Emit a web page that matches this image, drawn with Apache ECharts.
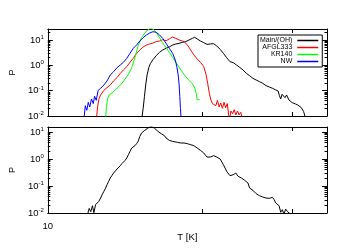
<!DOCTYPE html>
<html><head><meta charset="utf-8">
<script src="https://cdn.jsdelivr.net/npm/echarts@6/dist/echarts.min.js"></script>
<style>html,body{margin:0;padding:0;background:#fff}#c{width:350px;height:250px}</style>
</head><body><div id="c"></div>
<script>
// ---- data ----
const seriesNames = ['Main/(OH)', 'AFGL333', 'KR140', 'NW'];
const seriesColors = ['#000000', '#ff0000', '#00ff00', '#0000ff'];

const T_MAIN = [40.7,41.5,42.3,43.1,44.0,45.1,46.2,48.0,50.4,53.0,55.6,58.4,61.3,64.4,67.6,71.0,74.6,78.3,82.3,86.4,89.4,92.9,97.6,102.5,107.6,113.0,118.7,124.6,130.9,137.4,144.3,151.6,159.2,167.1,175.4,184.3,193.5,203.2,213.4,224.1,235.3,247.1,259.5,272.5,286.1,300.5,310.9,317.1,323.3,329.7,336.2,344.5,353.0,365.3,383.7,402.8,416.8,429.3,439.9,455.2,468.8];
const P_MAIN = [0.008,0.0201,0.0582,0.168,0.416,0.808,1.17,1.67,2.41,3.27,4.04,4.70,5.30,6.35,6.96,7.39,8.10,8.6,10.0,11.6,12.8,11.0,9.14,7.85,6.75,6.96,7.17,5.80,4.29,2.98,2.01,1.40,1.28,1.03,0.833,0.655,0.484,0.392,0.307,0.264,0.227,0.195,0.158,0.140,0.124,0.107,0.0973,0.0636,0.047,0.0718,0.0811,0.0531,0.0676,0.043,0.0337,0.0299,0.0272,0.0308,0.0213,0.0149,0.008];

const T_AFGL = [20.7,21.1,21.5,22.0,22.5,23.1,24.2,25.4,26.7,28.1,29.5,30.9,32.5,34.1,35.8,37.6,39.5,41.5,43.6,45.7,48.0,50.4,53.0,55.6,58.4,61.3,64.4,67.6,71.0,76.4,80.3,84.3,88.5,92.9,97.6,102.5,106.0,108.7,111.4,114.1,116.9,119.8,122.8,125.8,129.0,132.1,135.4,138.8,142.2,145.7,148.6,150.8,153.8,157.6,161.5,165.5,169.6,173.7,178.0,182.5];
const P_AFGL = [0.009,0.0272,0.0499,0.0676,0.0599,0.103,0.132,0.168,0.241,0.327,0.484,0.655,0.886,1.32,1.89,2.98,4.04,5.30,6.35,6.96,7.62,8.6,9.14,10.3,9.38,11.0,13.2,11.6,10.0,8.6,6.35,4.04,2.56,1.78,1.32,0.886,0.442,0.195,0.0787,0.043,0.0308,0.0369,0.0256,0.0416,0.0227,0.0327,0.0201,0.0347,0.0213,0.0308,0.011,0.008,0.0158,0.0124,0.0178,0.011,0.0158,0.011,0.014,0.008];

const T_KR140 = [23.7,24.0,24.4,25.0,26.0,27.4,28.8,30.2,31.7,33.3,35.0,36.7,38.5,40.5,42.5,44.6,46.2,48.0,50.4,53.0,55.6,58.4,61.3,64.4,67.6,71.0,74.6,78.3,82.3,86.4,89.8,91.6,92.9,96.2];
const P_KR140 = [0.008,0.0234,0.047,0.0676,0.0787,0.107,0.144,0.195,0.289,0.442,0.808,2.01,5.98,12.4,18.9,25.6,28.9,27.2,20.1,12.4,7.39,4.99,3.27,2.07,1.32,0.833,0.530,0.358,0.256,0.189,0.124,0.0787,0.0442,0.0442];

const T_NW = [17.2,17.5,17.9,18.3,18.7,19.2,19.7,20.1,20.6,21.2,22.0,23.1,24.2,25.4,26.7,28.1,29.5,30.9,32.5,34.1,35.8,37.6,39.5,41.5,43.6,45.7,48.0,50.4,53.0,55.6,58.4,61.3,64.4,67.0,68.6,70.0,71.0,71.7,72.4,73.1];
const P_NW = [0.009,0.0256,0.0168,0.0347,0.0227,0.047,0.0308,0.0599,0.0416,0.103,0.124,0.168,0.241,0.416,0.563,0.808,1.03,1.32,1.89,2.98,4.70,6.35,9.14,12.4,15.8,18.9,21.3,20.1,15.8,11.6,7.39,4.70,2.98,1.63,0.886,0.416,0.168,0.0582,0.0201,0.008];

const T_TOTAL = [18.1,18.55,19.0,19.47,19.9,20.4,20.9,21.4,22.0,22.5,23.1,23.7,24.2,24.8,25.4,26.0,26.7,27.4,28.1,28.8,29.5,30.2,30.9,31.7,32.5,33.3,34.1,35.0,35.8,36.7,37.6,38.5,39.5,40.5,41.5,42.5,43.6,44.6,45.7,46.9,48.0,49.2,50.4,51.7,53.0,54.3,55.6,57.0,58.4,59.9,61.3,62.8,64.4,69.3,72.8,76.4,80.3,84.3,88.5,92.9,97.6,102.5,107.6,110.3,113.0,118.7,124.6,130.9,137.4,144.3,151.6,159.2,165.5,171.2,179.8,188.8,198.3,203.2,213.4,224.1,235.3,247.1,259.5,272.5,286.1,293.2,300.5,307.9,315.5,323.3,331.3,339.5,347.9,356.5,365.3,374.4];
const P_TOTAL = [0.009,0.0148,0.0112,0.0186,0.0103,0.0203,0.0234,0.027,0.0359,0.0477,0.0633,0.0841,0.112,0.148,0.198,0.241,0.302,0.349,0.425,0.504,0.565,0.671,0.751,0.891,1.09,1.44,1.92,2.55,2.94,3.11,3.69,4.50,6.90,9.17,10.6,11.5,12.9,14.1,15.3,16.2,15.3,13.7,12.2,10.6,9.72,8.66,7.95,7.30,5.99,5.19,4.90,4.90,4.50,4.13,3.91,3.91,3.69,3.39,3.11,2.55,2.09,1.665,1.18,0.998,1.18,1.326,1.18,0.998,0.616,0.349,0.241,0.262,0.302,0.228,0.198,0.162,0.129,0.0841,0.069,0.052,0.0438,0.0391,0.0359,0.0349,0.038,0.0311,0.0234,0.0221,0.0186,0.0106,0.0133,0.009,0.014,0.0115,0.0133,0.009];

// axis ranges / ticks
const X_MIN = 10, X_MAX = 645;
const X_TICKS = [100, 385];
const X_LABELS = [10];
const Y_MIN = 0.01, Y_MAX_TOP = 27.2, Y_MAX_BOTTOM = 15.3;
const Y_MAJOR = [0.01, 0.1, 1, 10];
const Y_MINOR = [0.02,0.03,0.04,0.05,0.06,0.07,0.08,0.09,0.2,0.3,0.4,0.5,0.6,0.7,0.8,0.9,2,3,4,5,6,7,8,9,20];

// ---- chart ----
const FONT = 'Liberation Sans, Arial, sans-serif';
const pair = (t, p) => t.map((v, i) => [v, p[i]]);
const black = { color: '#000', width: 1 };

function xAx(grid, pos, withLabel) {
  return {
    type: 'log', logBase: 10, gridIndex: grid, position: pos, min: X_MIN, max: X_MAX,
    axisLine: { show: true, lineStyle: black },
    axisTick: { show: true, inside: true, length: 4, customValues: X_TICKS, lineStyle: black },
    axisLabel: withLabel ? { show: true, customValues: X_LABELS, margin: 8, fontSize: 9.5, color: '#000', fontFamily: FONT } : { show: false },
    splitLine: { show: false }, minorTick: { show: false },
    name: withLabel ? 'T [K]' : '', nameLocation: 'middle', nameGap: 19,
    nameTextStyle: { fontSize: 9.5, color: '#000', fontFamily: FONT }
  };
}
function yAx(grid, pos, max, major, withLabel) {
  return {
    type: 'log', logBase: 10, gridIndex: grid, position: pos, min: Y_MIN, max: max,
    axisLine: { show: major, lineStyle: black },
    axisTick: { show: true, inside: true, length: major ? 5 : 2.5, customValues: major ? Y_MAJOR : Y_MINOR, lineStyle: black },
    axisLabel: withLabel ? {
      show: true, customValues: Y_MAJOR, margin: 4,
      formatter: v => { const e = Math.round(Math.log10(v)); return '{b|10}{s|' + (e < 0 ? '-' : '') + Math.abs(e) + '}'; },
      rich: { b: { fontSize: 9.5, color: '#000', fontFamily: FONT, lineHeight: 11 },
              s: { fontSize: 6, color: '#000', fontFamily: FONT, verticalAlign: 'top', lineHeight: 7 } }
    } : { show: false },
    splitLine: { show: false }, minorTick: { show: false },
    name: withLabel ? 'P' : '', nameLocation: 'middle', nameGap: 30, nameRotate: 90,
    nameTextStyle: { fontSize: 9, color: '#000', fontFamily: FONT }
  };
}
function line(name, data, color, xi, yi) {
  return { name, type: 'line', data, xAxisIndex: xi, yAxisIndex: yi, symbol: 'none', showSymbol: false,
    color: color, lineStyle: { color, width: 1 }, itemStyle: { color }, clip: true, silent: true };
}

const chart = echarts.init(document.getElementById('c'), null, { renderer: 'canvas' });
chart.setOption({
  animation: false,
  backgroundColor: '#fff',
  color: seriesColors.concat(['#000000']),
  grid: [
    { left: 43, top: 29, width: 284, height: 87 },
    { left: 43, top: 127, width: 284, height: 86 }
  ],
  xAxis: [xAx(0, 'bottom', false), xAx(0, 'top', false), xAx(1, 'bottom', true), xAx(1, 'top', false)],
  yAxis: [
    yAx(0, 'left', Y_MAX_TOP, true, true), yAx(0, 'left', Y_MAX_TOP, false, false),
    yAx(0, 'right', Y_MAX_TOP, true, false), yAx(0, 'right', Y_MAX_TOP, false, false),
    yAx(1, 'left', Y_MAX_BOTTOM, true, true), yAx(1, 'left', Y_MAX_BOTTOM, false, false),
    yAx(1, 'right', Y_MAX_BOTTOM, true, false), yAx(1, 'right', Y_MAX_BOTTOM, false, false)
  ],
  legend: {
    data: seriesNames.map((n, i) => ({
      name: n,
      itemStyle: { color: seriesColors[i], borderWidth: 0 },
      lineStyle: { color: seriesColors[i], width: 1.5 }
    })),
    left: 258, top: 35, orient: 'vertical', align: 'right',
    icon: 'rect', itemWidth: 21, itemHeight: 1.5, itemGap: 0, padding: [2, 4, 2, 2],
    itemStyle: { borderWidth: 0 },
    borderColor: '#000', borderWidth: 1, backgroundColor: '#fff', selectedMode: false,
    textStyle: { fontSize: 7, color: '#000', fontFamily: FONT, lineHeight: 6 }
  },
  series: [
    line(seriesNames[0], pair(T_MAIN, P_MAIN), seriesColors[0], 0, 0),
    line(seriesNames[1], pair(T_AFGL, P_AFGL), seriesColors[1], 0, 0),
    line(seriesNames[2], pair(T_KR140, P_KR140), seriesColors[2], 0, 0),
    line(seriesNames[3], pair(T_NW, P_NW), seriesColors[3], 0, 0),
    line('Total', pair(T_TOTAL, P_TOTAL), '#000000', 2, 4)
  ]
});
</script>
</body></html>
